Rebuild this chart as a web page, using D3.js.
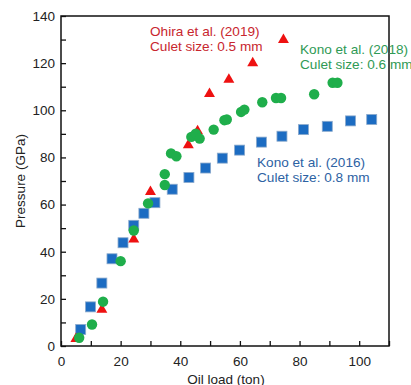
<!DOCTYPE html>
<html>
<head>
<meta charset="utf-8">
<script src="https://cdn.jsdelivr.net/npm/d3@7"></script>
<style>
  body { margin: 0; background: #fff; }
  svg text { font-family: "Liberation Sans", Arial, sans-serif; }
</style>
</head>
<body>
<div id="chart"></div>
<script>
// Kono et al. (2016), culet 0.8 mm
var blueX = [6.6, 9.9, 13.7, 17.1, 20.8, 24.4, 27.8, 31.5, 37.3, 42.9, 48.5, 54.1, 59.9, 67.2, 74.1, 81.3, 89.3, 97.1, 104.2];
var blueY = [7.0, 16.6, 26.7, 37.0, 43.8, 51.2, 56.3, 60.8, 66.5, 71.5, 75.5, 79.7, 83.1, 86.5, 89.0, 91.8, 93.2, 95.5, 96.1];

// Ohira et al. (2019), culet 0.5 mm
var redX = [5.0, 13.7, 24.4, 30.0, 42.7, 45.8, 49.8, 56.3, 64.3, 74.6];
var redY = [3.0, 15.4, 45.3, 65.4, 85.2, 91.2, 107.0, 113.0, 120.0, 129.9];

// Kono et al. (2018), culet 0.6 mm
var greenX = [6.1, 10.4, 14.1, 20.0, 24.4, 29.2, 34.8, 34.8, 36.9, 38.7, 43.7, 45.2, 46.5, 51.2, 54.8, 55.6, 60.4, 61.5, 67.5, 72.1, 73.8, 84.9, 91.1, 92.7];
var greenY = [3.5, 9.1, 18.8, 36.0, 49.0, 60.5, 68.3, 72.9, 81.7, 80.5, 88.7, 90.1, 88.0, 91.8, 95.8, 96.1, 99.3, 100.3, 103.4, 105.2, 105.2, 106.8, 111.7, 111.7];

var xTicks = [0, 20, 40, 60, 80, 100];
var yTicks = [0, 20, 40, 60, 80, 100, 120, 140];

var W = 411, H = 385;
var margin = {top: 16, right: 22, bottom: 39, left: 61};
var width = W - margin.left - margin.right;
var height = H - margin.top - margin.bottom;

var svg = d3.select("#chart").append("svg")
  .attr("width", W)
  .attr("height", H)
  .append("g")
  .attr("transform", "translate(" + margin.left + "," + margin.top + ")");

var x = d3.scaleLinear().domain([0, 110]).range([0, width]);
var y = d3.scaleLinear().domain([0, 140]).range([height, 0]);

// ticks inward, every 10 (labels only on 20s)
var xAxis = d3.axisBottom(x).tickValues(d3.range(0, 111, 10)).tickSize(-5)
  .tickFormat(d => xTicks.indexOf(d) >= 0 ? d : "").tickPadding(10);
var yAxis = d3.axisLeft(y).tickValues(d3.range(0, 141, 10)).tickSize(-5)
  .tickFormat(d => yTicks.indexOf(d) >= 0 ? d : "").tickPadding(6);

var gx = svg.append("g").attr("transform", "translate(0," + height + ")").call(xAxis);
var gy = svg.append("g").call(yAxis);
[gx, gy].forEach(function(g){
  g.select(".domain").remove();
  g.selectAll("line").attr("stroke", "#111").attr("stroke-width", 1.3);
  g.selectAll("text").attr("font-size", "13.5px").attr("fill", "#222")
    .style("font-family", "'Liberation Sans', Arial, sans-serif");
});

// frame
svg.append("rect")
  .attr("x", 0).attr("y", 0)
  .attr("width", width).attr("height", height)
  .attr("fill", "none")
  .attr("stroke", "#111")
  .attr("stroke-width", 1.5);

// blue squares
var sq = 10;
svg.selectAll(".sq").data(d3.zip(blueX, blueY)).enter()
  .append("rect")
  .attr("class", "sq")
  .attr("x", d => x(d[0]) - sq/2)
  .attr("y", d => y(d[1]) - sq/2)
  .attr("width", sq).attr("height", sq)
  .attr("fill", "#1c6cc2")
  .attr("stroke", "#8aa9cc")
  .attr("stroke-width", 0.8);

// red triangles
var tri = d3.symbol().type(d3.symbolTriangle).size(52);
svg.selectAll(".tri").data(d3.zip(redX, redY)).enter()
  .append("path")
  .attr("class", "tri")
  .attr("d", tri)
  .attr("transform", d => "translate(" + x(d[0]) + "," + y(d[1]) + ")")
  .attr("fill", "#ee1111");

// green circles
svg.selectAll(".circ").data(d3.zip(greenX, greenY)).enter()
  .append("circle")
  .attr("class", "circ")
  .attr("cx", d => x(d[0]))
  .attr("cy", d => y(d[1]))
  .attr("r", 5.2)
  .attr("fill", "#1fae4b");

// series labels
function label(tx, ty, lines, color){
  lines.forEach(function(t, i){
    svg.append("text")
      .attr("x", tx - margin.left)
      .attr("y", ty - margin.top + i * 15.5)
      .attr("font-size", "13.6px")
      .attr("fill", color)
      .text(t);
  });
}
label(150, 35.5, ["Ohira et al. (2019)", "Culet size: 0.5 mm"], "#c8262e");
label(300, 53.5, ["Kono et al. (2018)", "Culet size: 0.6 mm"], "#2f9a55");
label(257, 166.5, ["Kono et al. (2016)", "Culet size: 0.8 mm"], "#2d62a3");

// axis titles
svg.append("text")
  .attr("x", width/2 + 1)
  .attr("y", 383.5 - margin.top)
  .attr("text-anchor", "middle")
  .attr("font-size", "13.5px")
  .attr("fill", "#222")
  .text("Oil load (ton)");

svg.append("text")
  .attr("transform", "translate(" + (25 - margin.left) + "," + (height/2) + ") rotate(-90)")
  .attr("text-anchor", "middle")
  .attr("font-size", "13.5px")
  .attr("fill", "#222")
  .text("Pressure (GPa)");
</script>
</body>
</html>
